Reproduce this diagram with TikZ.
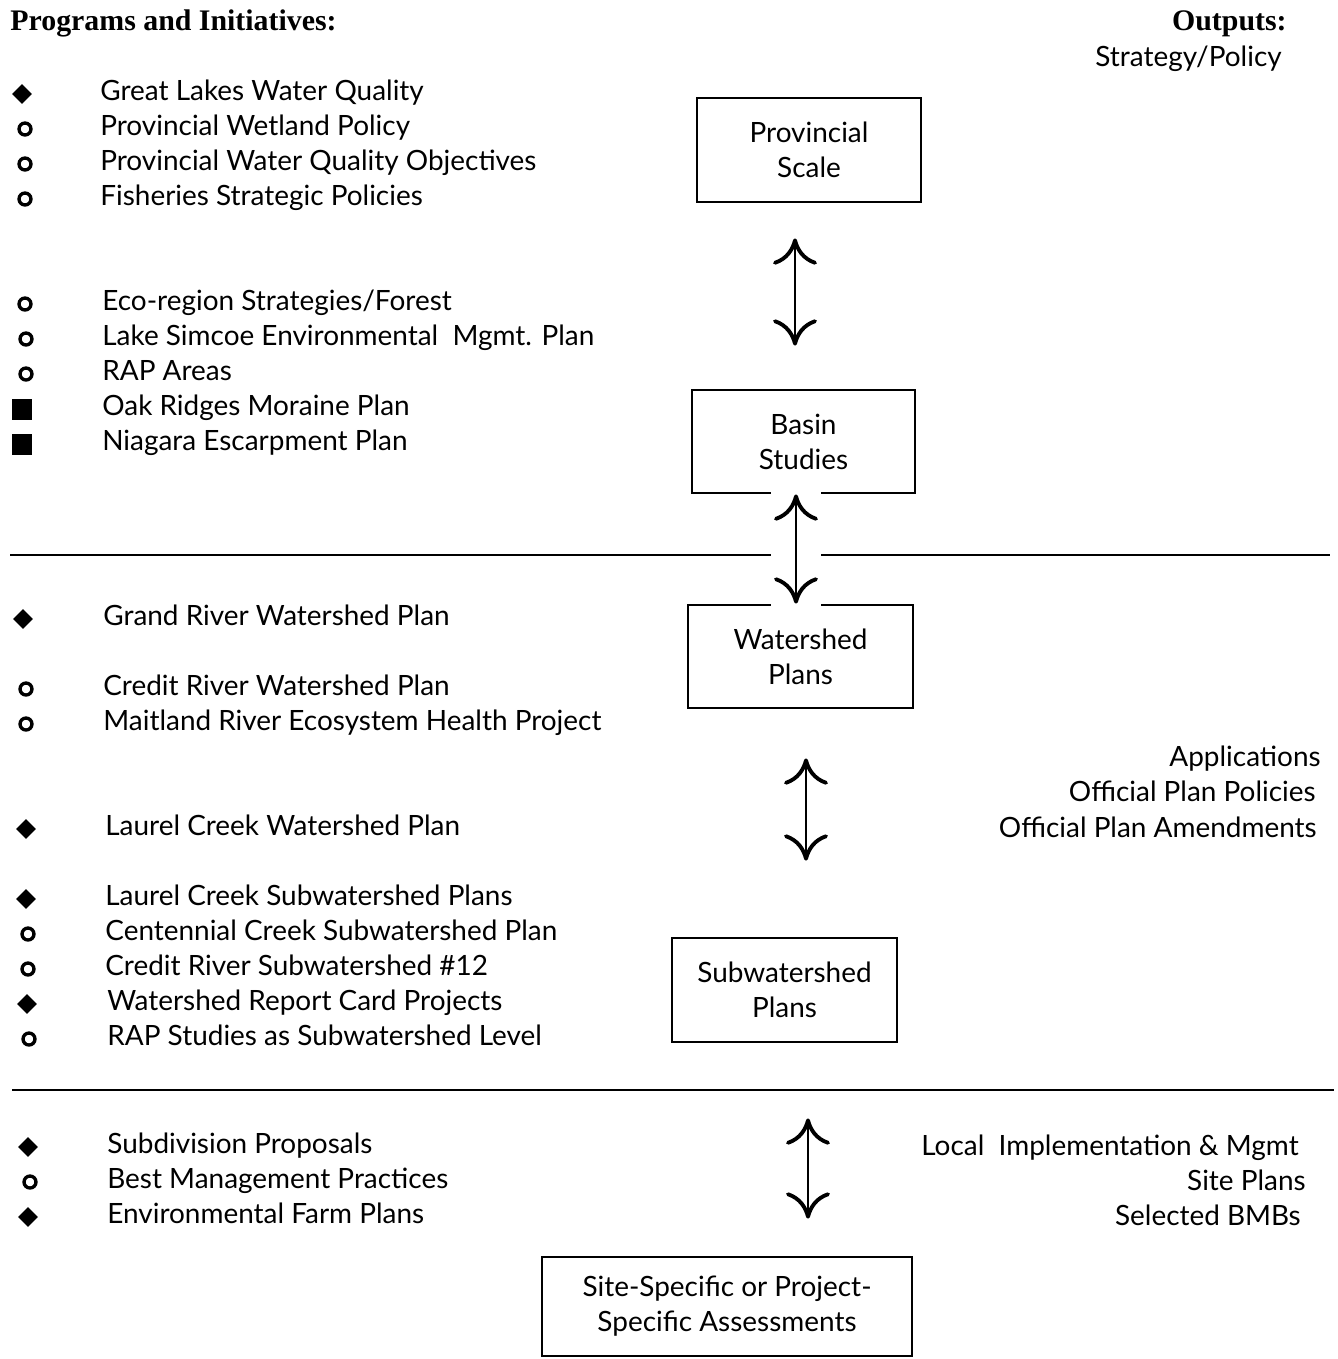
\documentclass[tikz,border=0pt]{standalone}
\usepackage{fontspec}
\setmainfont{Lato}
\newfontfamily\headfont{Liberation Serif}
\usetikzlibrary{positioning}
\usetikzlibrary{arrows.meta}
\usetikzlibrary{shapes.geometric}

\begin{document}
\begin{tikzpicture}[x=0.02cm, y=-0.02cm,
  every node/.style={font=\fontsize{15.9}{20}\selectfont, inner sep=0pt},
  head/.style={font=\fontsize{17}{20}\selectfont\headfont\bfseries},
  scalebox/.style={draw, line width=1.6pt, align=center},
  rule/.style={line width=1.6pt},
  biarrow/.style={line width=1.1pt, {To[length=15pt,width=25pt,line width=2.2pt]}-{To[length=15pt,width=25pt,line width=2.2pt]}},
  dia/.style={diamond, fill, minimum size=0.4cm},
  ring/.style={circle, draw, line width=1.9pt, minimum size=0.24cm},
  blk/.style={rectangle, fill, minimum size=0.42cm},
  item/.style={anchor=base west},
  outp/.style={anchor=base east}]

  \useasboundingbox (0,0) rectangle (1338,1359);

  % Headings
  \node[head, anchor=base west] (prog) at (10,31) {Programs and Initiatives:};
  \node[head, anchor=base east] (outs) at (1287,31) {Outputs:};
  \node[outp] (strat) at (1282,66) {Strategy/Policy};

  % Scales
  \node[scalebox, minimum width=4.48cm, minimum height=2.08cm] (prov) at (809,150) {Provincial\\Scale};
  \node[scalebox, minimum width=4.46cm, minimum height=2.06cm] (basin) at (803.5,441.5) {Basin\\Studies};
  \node[scalebox, minimum width=4.5cm, minimum height=2.06cm] (water) at (800.5,656.5) {Watershed\\Plans};
  \node[scalebox, minimum width=4.5cm, minimum height=2.08cm] (subw) at (784.5,990) {Subwatershed\\Plans};
  \node[scalebox, minimum width=7.4cm, minimum height=1.98cm] (site) at (727,1306.5) {Site-Specific or Project-\\Specific Assessments};

  % Programs with their bullets
  \foreach \y/\bx/\tx/\b/\t [count=\i] in {
      92/22/100/dia/{Great Lakes Water Quality},
      127/25/100/ring/{Provincial Wetland Policy},
      162/25/100/ring/{Provincial Water Quality Objectives},
      197/25/100/ring/{Fisheries Strategic Policies},
      302/25/102/ring/{Eco-region Strategies/Forest},
      337/26/102/ring/{Lake Simcoe Environmental\ \ Mgmt. Plan},
      372/26/102/ring/{RAP Areas},
      407/22/102/blk/{Oak Ridges Moraine Plan},
      442/22/102/blk/{Niagara Escarpment Plan},
      617/23/103/dia/{Grand River Watershed Plan},
      687/26/103/ring/{Credit River Watershed Plan},
      722/26/103/ring/{Maitland River Ecosystem Health Project},
      827/26/105/dia/{Laurel Creek Watershed Plan},
      897/26/105/dia/{Laurel Creek Subwatershed Plans},
      932/28/105/ring/{Centennial Creek Subwatershed Plan},
      967/28/105/ring/{Credit River Subwatershed \#12},
      1002/27/107/dia/{Watershed Report Card Projects},
      1037/29/107/ring/{RAP Studies as Subwatershed Level},
      1145/28/107/dia/{Subdivision Proposals},
      1180/30/107/ring/{Best Management Practices},
      1215/28/107/dia/{Environmental Farm Plans}} {
    \node[\b] (bul\i) at (\bx,\y+2) {};
    \node[item] (itm\i) at (\tx,\y+8) {\t};
  }

  % Outputs
  \node[outp] (appl) at (1321,766) {Applications};
  \node[outp] (opp) at (1316,801) {Official Plan Policies};
  \node[outp] (opa) at (1317,837) {Official Plan Amendments};
  \node[outp] (local) at (1299,1155) {Local\ \ Implementation \& Mgmt};
  \node[outp] (sitep) at (1306,1190) {Site Plans};
  \node[outp] (bmb) at (1301,1225) {Selected BMBs};

  % Dividing rules
  \coordinate (r1w) at (10,555);
  \coordinate (r1e) at (1330,555);
  \coordinate (r2w) at (12,1090);
  \coordinate (r2e) at (1334,1090);
  \draw[rule] (r1w) -- (r1e);
  \draw[rule] (r2w) -- (r2e);

  % Links between scales
  \coordinate (a1) at (795,0);
  \coordinate (a2) at (796,0);
  \coordinate (a3) at (806,0);
  \coordinate (a4) at (808,0);
  \draw[biarrow, shorten <=0.7cm, shorten >=0.86cm] (prov.south -| a1) -- (basin.north -| a1);
  \draw[biarrow, preaction={draw=white, line width=1cm, arrows=-, shorten <=-0.06cm, shorten >=-0.06cm}] (basin.south -| a2) -- (water.north -| a2);
  \draw[biarrow, shorten <=0.98cm, shorten >=1.52cm] (water.south -| a3) -- (subw.north -| a3);
  \draw[biarrow, shorten <=1.5cm, shorten >=0.74cm] (subw.south -| a4) -- (site.north -| a4);
\end{tikzpicture}
\end{document}
